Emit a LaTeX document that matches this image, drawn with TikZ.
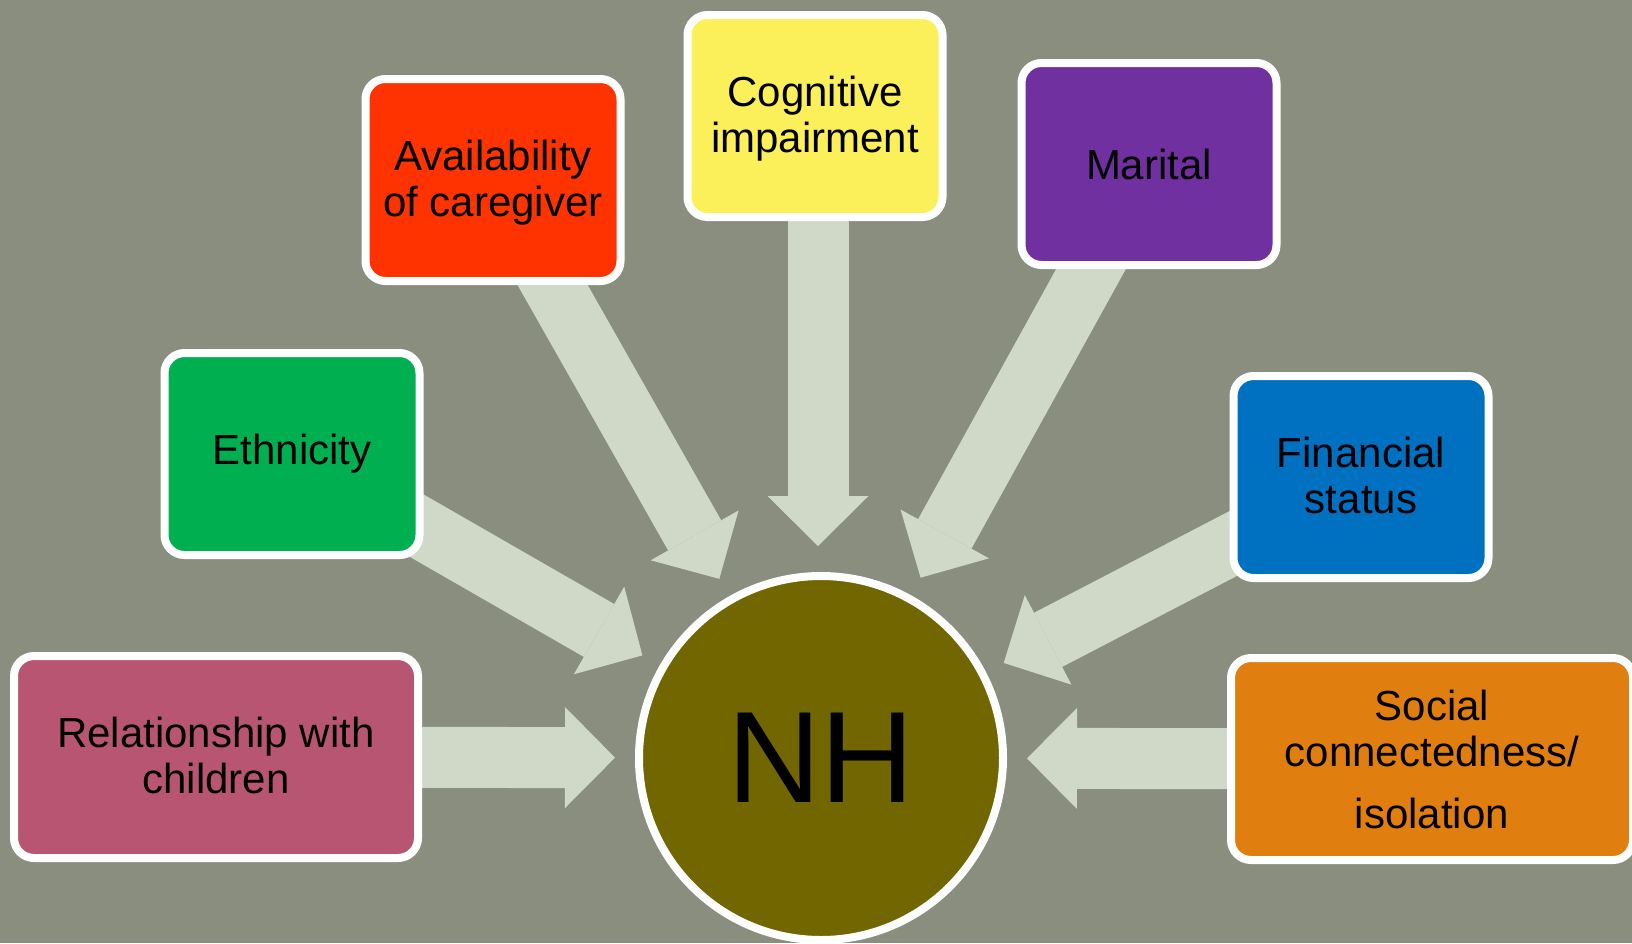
\documentclass[tikz,border=0pt]{standalone}
\usepackage{fontspec}
\setmainfont{Liberation Sans}
\usetikzlibrary{arrows.meta,calc}
\definecolor{bgc}{HTML}{898E7F}
\definecolor{arrowc}{HTML}{D0D9C7}
\definecolor{relc}{HTML}{B85573}
\definecolor{ethc}{HTML}{00B050}
\definecolor{avac}{HTML}{FF3300}
\definecolor{cogc}{HTML}{FBEF5A}
\definecolor{marc}{HTML}{7030A0}
\definecolor{finc}{HTML}{0070C0}
\definecolor{socc}{HTML}{E07E10}
\definecolor{nhc}{HTML}{716600}
\pgfdeclarelayer{bglayer}
\pgfdeclarelayer{arrlayer}
\pgfsetlayers{bglayer,arrlayer,main}
\newcommand\twolines[2]{\raisebox{-2.2pt}[\height][\depth]{\begin{tabular}{@{}c@{}}#1\\#2\end{tabular}}}
\begin{document}
\begin{tikzpicture}[x=0.5pt,y=-0.5pt,
  box/.style={draw=white, line width=4pt, rounded corners=10pt,
    minimum width=127.5pt, minimum height=101pt, align=center,
    inner sep=0pt, text=black, font=\fontsize{21}{23}\selectfont},
  flow/.style={arrowc, line width=30.5pt,
    -{Triangle[width=50.5pt,length=25pt,line width=0pt]}},
  hub/.style={circle, draw=white, line width=4pt, fill=nhc,
    minimum size=182pt, inner sep=0pt, text=black,
    font=\fontsize{65}{70}\selectfont}
]
\useasboundingbox (0,0) rectangle (1632,943);
\begin{pgfonlayer}{bglayer}
  \fill[bgc] (0,0) rectangle (1632,943);
\end{pgfonlayer}

\node[hub] (nh) at (821,758) {NH};
\node[box, fill=relc, minimum width=202pt] (rel) at (216,757) {\twolines{Relationship with}{children}};
\node[box, fill=ethc] (eth) at (292,454) {Ethnicity};
\node[box, fill=avac] (ava) at (493,180) {\twolines{Availability}{of caregiver}};
\node[box, fill=cogc] (cog) at (815,116) {\twolines{Cognitive}{impairment}};
\node[box, fill=marc] (mar) at (1149,164) {Marital};
\node[box, fill=finc] (fin) at (1361,477) {\twolines{Financial}{status}};
\node[box, fill=socc, minimum width=201pt] (soc) at (1432,759) {Social\\connectedness/\\[8pt]isolation};

\foreach \b in {rel,eth,ava,mar,fin,soc}{
  \coordinate (tip-\b) at ($(nh.center)!103pt!(\b.center)$);
}
\coordinate (tip-cog) at (818,546);
\begin{pgfonlayer}{arrlayer}
  \foreach \b in {rel,eth,ava,mar,fin,soc}{
    \draw[flow] (\b.center) -- (tip-\b);
  }
  \draw[flow] (tip-cog |- cog.center) -- (tip-cog);
\end{pgfonlayer}
\end{tikzpicture}
\end{document}
